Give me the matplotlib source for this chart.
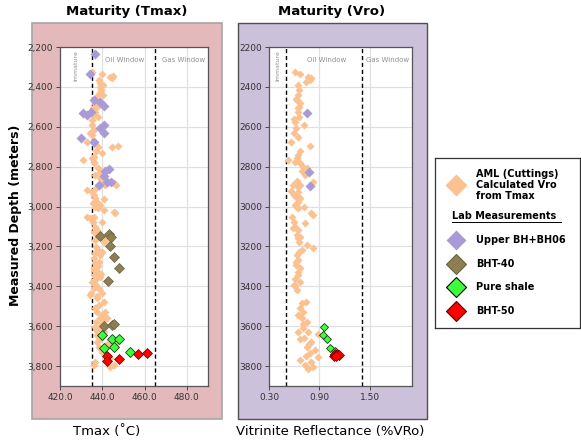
import matplotlib
matplotlib.use("Agg")
import matplotlib.pyplot as plt
from matplotlib.patches import Rectangle
from matplotlib.lines import Line2D
from matplotlib.ticker import FuncFormatter

# ---- data (depth in m) ----
# AML cuttings, Tmax (deg C)
aml_tmax = [435.1, 439.8, 438.3, 443.8, 444.6, 445.1, 438.7, 439.0, 439.4, 440.2,
            438.7, 437.8, 440.3, 437.1, 436.7, 437.5, 435.4, 436.7, 437.8, 435.1,
            435.9, 435.1, 435.9, 434.3, 435.1, 432.7, 437.1, 437.8, 439.8, 444.6,
            437.0, 435.9, 431.1, 435.1, 435.9, 436.3, 437.8, 439.0, 439.8, 436.7,
            438.7, 440.6, 445.4, 441.4, 437.1, 432.7, 435.1, 435.9, 436.7, 437.5,
            435.6, 436.7, 437.8, 440.6, 445.4, 446.2, 432.7, 434.3, 435.6, 436.7,
            437.5, 435.9, 437.8, 436.7, 440.6, 441.9, 437.1, 437.9, 436.7, 439.0,
            435.9, 438.3, 437.1, 436.3, 437.8, 435.9, 438.7, 435.1, 437.1, 434.6,
            439.8, 440.6, 438.3, 436.7, 437.5, 437.5, 439.8, 439.0, 437.1, 441.0,
            436.7, 438.3, 442.2, 437.5, 439.0, 437.5, 442.2, 438.3, 439.8, 442.7,
            443.8, 445.4, 443.8, 435.9, 440.0, 436.5, 438.0, 436.0, 439.5, 437.0,
            436.0, 438.5, 437.5, 441.5, 440.0, 437.0, 441.0, 444.0, 447.0, 441.0,
            439.0, 436.0, 440.0, 438.0, 443.5, 434.0, 447.5, 446.5, 436.7]
aml_tmax_depth = [2324, 2337, 2366, 2349, 2357, 2345, 2382, 2399, 2416, 2391,
                  2432, 2441, 2441, 2458, 2483, 2499, 2508, 2524, 2549, 2566,
                  2541, 2591, 2616, 2633, 2641, 2675, 2692, 2700, 2733, 2700,
                  2722, 2750, 2767, 2759, 2775, 2784, 2809, 2825, 2851, 2842,
                  2859, 2876, 2884, 2892, 2909, 2917, 2926, 2942, 2959, 2976,
                  2984, 3001, 3009, 3018, 3026, 3034, 3051, 3060, 3076, 3101,
                  3118, 3126, 3143, 3168, 3177, 3151, 3202, 3218, 3235, 3244,
                  3260, 3277, 3294, 3310, 3327, 3344, 3352, 3377, 3394, 3436,
                  3436, 3478, 3494, 3511, 3461, 3528, 3544, 3561, 3578, 3570,
                  3603, 3611, 3561, 3645, 3662, 3678, 3687, 3703, 3728, 3754,
                  3762, 3795, 3804, 3795, 3230, 3285, 3300, 3320, 3340, 3365,
                  3410, 3415, 3450, 3530, 3590, 3620, 3630, 3690, 3680, 2960,
                  2990, 3050, 3080, 3130, 3170, 3444, 2696, 2890, 3778]

# AML cuttings, calculated Vro (%)
aml_vro = [0.608, 0.667, 0.765, 0.797, 0.785, 0.734, 0.647, 0.655, 0.639, 0.627,
           0.667, 0.647, 0.639, 0.655, 0.608, 0.718, 0.616, 0.600, 0.560, 0.785,
           0.667, 0.647, 0.627, 0.529, 0.608, 0.667, 0.706, 0.746, 0.687, 0.726,
           0.627, 0.825, 0.588, 0.667, 0.560, 0.647, 0.616, 0.667, 0.639, 0.608,
           0.718, 0.805, 0.825, 0.647, 0.576, 0.600, 0.608, 0.647, 0.726, 0.627,
           0.667, 0.655, 0.746, 0.825, 0.687, 0.627, 0.647, 0.616, 0.667, 0.639,
           0.608, 0.667, 0.600, 0.627, 0.734, 0.687, 0.667, 0.706, 0.647, 0.687,
           0.746, 0.706, 0.647, 0.765, 0.884, 0.667, 0.805, 0.746, 0.844, 0.785,
           0.884, 0.667, 0.805, 0.726, 0.825, 0.765, 0.620, 0.660, 0.600, 0.640,
           0.650, 0.600, 0.630, 0.590, 0.640, 0.660, 0.620, 0.650, 0.610, 0.700,
           0.720, 0.780, 0.740]
aml_vro_depth = [2327, 2337, 2349, 2354, 2366, 2377, 2391, 2416, 2441, 2466,
                 2483, 2508, 2524, 2549, 2575, 2591, 2608, 2633, 2678, 2695,
                 2722, 2742, 2759, 2767, 2775, 2784, 2800, 2809, 2822, 2842,
                 2872, 2876, 2892, 2892, 2922, 2926, 2951, 2959, 2976, 2993,
                 3001, 3034, 3043, 3009, 3051, 3076, 3101, 3118, 3085, 3143,
                 3151, 3177, 3193, 3210, 3218, 3244, 3269, 3294, 3310, 3344,
                 3361, 3377, 3394, 3419, 3478, 3486, 3511, 3528, 3544, 3561,
                 3578, 3611, 3628, 3628, 3641, 3662, 3678, 3703, 3720, 3737,
                 3754, 3770, 3779, 3795, 3804, 3815, 2460, 2500, 2560, 2650,
                 2900, 2940, 3000, 3110, 3160, 3230, 3280, 3330, 3400, 3590,
                 3660, 3690, 3750]

# lab measurements - Tmax
upper_tmax = [436.7, 434.0, 435.9, 439.0, 440.6, 430.8, 432.7, 434.8, 440.6, 439.0,
              440.6, 429.8, 435.9, 441.4, 443.0, 440.6, 442.2, 444.1, 438.3]
upper_tmax_depth = [2237, 2335, 2466, 2474, 2494, 2529, 2541, 2524, 2591, 2608,
                    2633, 2658, 2678, 2822, 2812, 2845, 2876, 2879, 2892]
bht40_tmax = [439.0, 443.0, 444.1, 443.8, 445.7, 448.1, 442.7, 440.6, 444.6, 445.4]
bht40_tmax_depth = [3148, 3140, 3152, 3197, 3252, 3307, 3374, 3600, 3595, 3590]
shale_tmax = [439.8, 444.6, 448.1, 440.6, 445.7, 453.0]
shale_tmax_depth = [3642, 3665, 3662, 3708, 3703, 3728]
bht50_tmax = [442.1, 442.1, 448.1, 457.0, 461.0]
bht50_tmax_depth = [3748, 3773, 3765, 3741, 3735]

# lab measurements - Vro
upper_vro = [0.753, 0.777, 0.789]
upper_vro_depth = [2533, 2825, 2896]
shale_vro = [0.955, 0.939, 0.986, 1.026, 1.080]
shale_vro_depth = [3604, 3643, 3666, 3710, 3726]
bht50_vro = [1.07, 1.09, 1.11, 1.13, 1.10]
bht50_vro_depth = [3752, 3742, 3738, 3745, 3748]

depth_ticks = list(range(2200, 3801, 200))
tmax_ticks = [420, 440, 460, 480]
vro_ticks = [0.30, 0.90, 1.50]

# ---- styles ----
c_aml = '#fbc190'
c_upper = '#a89bd6'
c_bht40 = '#8c8052'
c_shale = '#3cff3c'
c_bht50 = '#ff0000'

W, H = 581, 442


def fx(px):
    return px / W


def fy(py):
    return 1 - py / H


fig = plt.figure(figsize=(W / 100, H / 100), dpi=100)

# coloured panels behind each plot
fig.add_artist(Rectangle((fx(32), fy(419)), 190 / W, 396 / H, transform=fig.transFigure,
                         facecolor='#e4b9bb', edgecolor='#a5a5a5', lw=1.2, zorder=0))
fig.add_artist(Rectangle((fx(238), fy(419)), 189 / W, 396 / H, transform=fig.transFigure,
                         facecolor='#ccc1da', edgecolor='#505050', lw=1.0, zorder=0))

ax1 = fig.add_axes([fx(60), fy(386), 148 / W, 339 / H])
ax2 = fig.add_axes([fx(269), fy(386), 143 / W, 339 / H])

for ax in (ax1, ax2):
    ax.set_ylim(3900, 2200)
    ax.set_yticks(depth_ticks)
    ax.grid(True, color='#e0e0e0', lw=0.9)
    ax.set_axisbelow(True)
    ax.tick_params(labelsize=6.5, length=3, width=0.6, colors='#333333', pad=2)
    for s in ax.spines.values():
        s.set_color('#555555')
        s.set_linewidth(0.9)

ms_aml = 3.7
ms_lab = 4.6

# Tmax panel
ax1.set_xlim(420, 490)
ax1.set_xticks(tmax_ticks)
ax1.xaxis.set_major_formatter(FuncFormatter(lambda v, p: f'{v:.1f}'))
ax1.yaxis.set_major_formatter(FuncFormatter(lambda v, p: f'{int(v):,}'))
ax1.axvline(435, color='black', ls=(0, (3, 2)), lw=1)
ax1.axvline(465, color='black', ls=(0, (3, 2)), lw=1)
ax1.plot(aml_tmax, aml_tmax_depth, 'D', ms=ms_aml, color=c_aml, mec='none')
ax1.plot(upper_tmax, upper_tmax_depth, 'D', ms=ms_lab, color=c_upper, mec='none')
ax1.plot(bht40_tmax, bht40_tmax_depth, 'D', ms=ms_lab, color=c_bht40, mec='#6b6040', mew=0.5)
ax1.plot(shale_tmax, shale_tmax_depth, 'D', ms=ms_lab, color=c_shale, mec='#1a3a1a', mew=0.6)
ax1.plot(bht50_tmax, bht50_tmax_depth, 'D', ms=ms_lab, color=c_bht50, mec='#5a0000', mew=0.5)
ax1.text(427.5, 2215, 'Immature', rotation=90, ha='center', va='top', fontsize=4.5, color='#909090')
ax1.text(450.7, 2265, 'Oil Window', ha='center', va='center', fontsize=5, color='#909090')
ax1.text(478.5, 2265, 'Gas Window', ha='center', va='center', fontsize=5, color='#909090')

# Vro panel
ax2.set_xlim(0.3, 2.0)
ax2.set_xticks(vro_ticks)
ax2.xaxis.set_major_formatter(FuncFormatter(lambda v, p: f'{v:.2f}'))
ax2.axvline(0.5, color='black', ls=(0, (3, 2)), lw=1)
ax2.axvline(1.4, color='black', ls=(0, (3, 2)), lw=1)
ax2.plot(aml_vro, aml_vro_depth, 'D', ms=ms_aml, color=c_aml, mec='none')
ax2.plot(upper_vro, upper_vro_depth, 'D', ms=ms_lab, color=c_upper, mec='none')
ax2.plot(shale_vro, shale_vro_depth, 'D', ms=3.8, color=c_shale, mec='#1a3a1a', mew=0.6)
ax2.plot(bht50_vro, bht50_vro_depth, 'D', ms=ms_lab, color=c_bht50, mec='#5a0000', mew=0.5)
ax2.text(0.4, 2215, 'Immature', rotation=90, ha='center', va='top', fontsize=4.5, color='#909090')
ax2.text(0.99, 2265, 'Oil Window', ha='center', va='center', fontsize=5, color='#909090')
ax2.text(1.71, 2265, 'Gas Window', ha='center', va='center', fontsize=5, color='#909090')

# titles and axis labels
fig.text(fx(127), fy(12), 'Maturity (Tmax)', ha='center', va='center', fontsize=9.5, weight='bold')
fig.text(fx(332), fy(12), 'Maturity (Vro)', ha='center', va='center', fontsize=9.5, weight='bold')
fig.text(fx(107), fy(432), 'Tmax (˚C)', ha='center', va='center', fontsize=9.5)
fig.text(fx(330), fy(432), 'Vitrinite Reflectance (%VRo)', ha='center', va='center', fontsize=9.5)
fig.text(fx(16), fy(215), 'Measured Depth (meters)', ha='center', va='center', rotation=90,
         fontsize=9, weight='bold')

# legend box
lg = fig.add_axes([fx(435), fy(328), 145 / W, 170 / H])
lg.set_xlim(0, 145)
lg.set_ylim(170, 0)
lg.set_xticks([])
lg.set_yticks([])
for s in lg.spines.values():
    s.set_color('#333333')
    s.set_linewidth(0.9)

entries = [
    (27, c_aml, 'none', 11, None),
    (82, c_upper, 'none', 10, 'Upper BH+BH06'),
    (106, c_bht40, '#6b6040', 10, 'BHT-40'),
    (129, c_shale, 'black', 10, 'Pure shale'),
    (153, c_bht50, '#5a0000', 10, 'BHT-50'),
]
for y, col, ec, ms, label in entries:
    lg.plot([21], [y], 'D', ms=ms, color=col, mec=ec, mew=0.8)
    if label:
        lg.text(41, y, label, va='center', ha='left', fontsize=7, weight='semibold')
lg.text(41, 27, 'AML (Cuttings)\nCalculated Vro\nfrom Tmax', va='center', ha='left',
        fontsize=7, weight='semibold', linespacing=1.15)
lg.text(17, 58, 'Lab Measurements', va='center', ha='left', fontsize=7, weight='semibold')
lg.add_line(Line2D([17, 126], [64, 64], color='black', lw=0.7))

fig.savefig('out.png', dpi=100)
